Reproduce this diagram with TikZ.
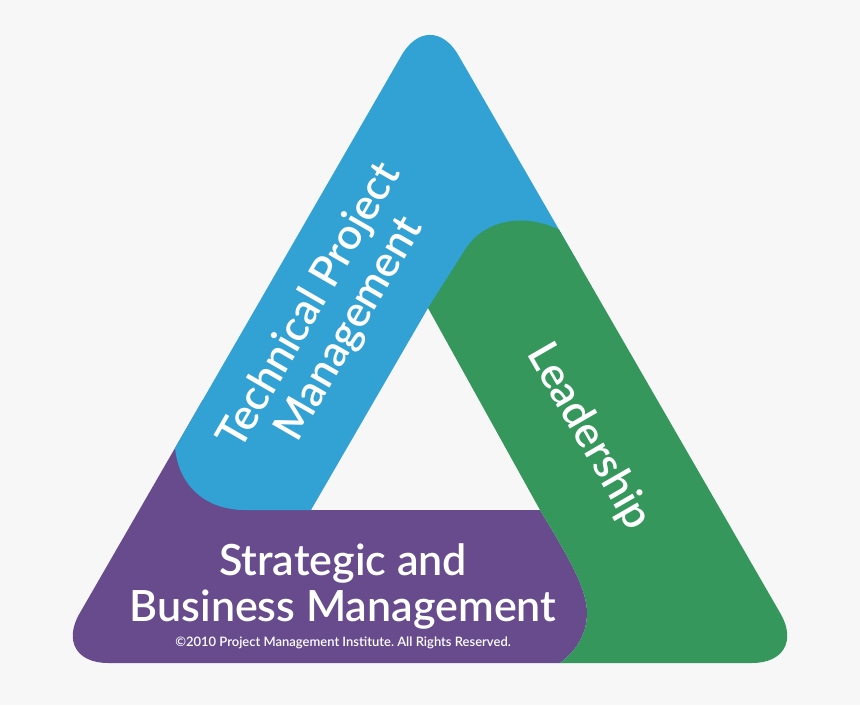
\documentclass[tikz,border=0pt]{standalone}
\usepackage{fontspec}
\setmainfont{Lato}[BoldFont={Lato Semibold}]
\definecolor{back_col}{RGB}{247,247,247}
\definecolor{tpm_blue}{RGB}{50,161,212}
\definecolor{lead_green}{RGB}{53,151,92}
\definecolor{sbm_purple}{RGB}{103,75,141}

\begin{document}
\frenchspacing
\begin{tikzpicture}[x=1pt,y=-1pt]
% styles for the three labels and the small print
\tikzstyle{band_text} = [text=white, font=\fontsize{43}{46}\selectfont\bfseries, align=center, inner sep=0pt]
\tikzstyle{small_text} = [text=white, font=\fontsize{13}{15}\selectfont\bfseries, inner sep=0pt]
% corners of the outer triangle and of the hole
\coordinate (outer_top) at (430,6);
\coordinate (outer_left) at (51,663);
\coordinate (outer_right) at (809,663);
\coordinate (hole_top) at (428,308);
\coordinate (hole_left) at (311,510);
\coordinate (hole_right) at (540,510);

\fill[back_col] (0,0) rectangle (860,705);

\begin{scope}
\clip[rounded corners=57pt] (outer_top) -- (outer_right) -- (outer_left) -- cycle;
% purple band, bottom
\fill[sbm_purple] (hole_left) -- (hole_right) -- (555,535)
  .. controls (570,561) and (587,590) .. (587,613)
  .. controls (587,635) and (575,652) .. (560,663)
  -- (545,674) -- (545,750) -- (-50,750) -- (-50,400) -- (330,400) -- cycle;
% blue band, left side
\fill[tpm_blue] (170,-50) -- (170,420) -- (175,447)
  .. controls (178,485) and (205,510) .. (245,510)
  -- (hole_left) -- (hole_top) -- (600,260) -- (600,-50) -- cycle;
% green band, right side
\fill[lead_green] (hole_top) -- (hole_right) -- (555,535)
  .. controls (570,561) and (587,590) .. (587,613)
  .. controls (587,635) and (575,652) .. (560,663)
  -- (545,674) -- (545,750) -- (950,750) -- (950,250) -- (600,250) -- (560,230)
  .. controls (525,213) and (483,218) .. (463,253) -- cycle;
\end{scope}

% labels
\node (tpm) [band_text, rotate=60] at (330,318) {Technical Project\\Management};
\node (lead) [band_text, rotate=-60] at (589,437) {Leadership};
\node (sbm) [band_text] at (343,586) {Strategic and\\Business Management};
\node (copy) [small_text] at (343,643) {©2010 Project Management Institute. All Rights Reserved.};
\end{tikzpicture}
\end{document}
